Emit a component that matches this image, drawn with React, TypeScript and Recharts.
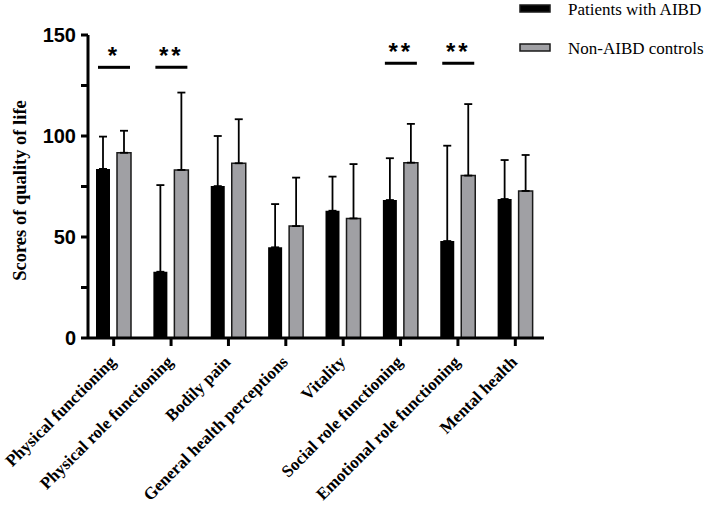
import { BarChart, Bar, XAxis, YAxis, ErrorBar, Legend } from "recharts";

const categories = [
  "Physical functioning",
  "Physical role functioning",
  "Bodily pain",
  "General health perceptions",
  "Vitality",
  "Social role functioning",
  "Emotional role functioning",
  "Mental health",
];

const seriesNames = ["Patients with AIBD", "Non-AIBD controls"];
const seriesColors = ["#000", "#a0a0a4"];

const aibdMeans = [83.7, 32.8, 75.2, 44.9, 63.0, 68.3, 48.0, 68.8];
const aibdSD = [16.0, 42.9, 24.8, 21.4, 16.9, 20.7, 47.2, 19.3];
const controlMeans = [91.7, 83.2, 86.5, 55.4, 59.2, 86.8, 80.4, 72.8];
const controlSD = [10.9, 38.3, 21.8, 24.0, 26.9, 19.2, 35.4, 17.8];

// significance brackets: level in score units, label above
const sigLevels = [134, 134, null, null, null, 136, 136, null];
const sigMarks = ["*", "**", "", "", "", "**", "**", ""];

const yTicks = [0, 25, 50, 75, 100, 125, 150];

const data = categories.map((name, i) => ({
  name,
  aibd: aibdMeans[i],
  aibdErr: [0, aibdSD[i]],
  control: controlMeans[i],
  controlErr: [0, controlSD[i]],
  sig: sigLevels[i],
  sigMark: sigMarks[i],
}));

const SERIF = "'Liberation Serif', 'Times New Roman', serif";
const SANS = "'Liberation Sans', Arial, sans-serif";

const XTick = ({ x, y, payload }: any) => (
  <g transform={`translate(${x + 3},${y + 15})`}>
    <text
      textAnchor="end"
      transform="rotate(-45)"
      fontFamily={SERIF}
      fontWeight="bold"
      fontSize={17}
      fill="#000"
    >
      {payload.value}
    </text>
  </g>
);

const SigShape = (props: any) => {
  const { x, y, width, payload } = props;
  if (payload == null || payload.sig == null) return <g />;
  return (
    <g>
      <line x1={x} x2={x + width} y1={y} y2={y} stroke="#000" strokeWidth={3} />
      <text
        x={x + width / 2}
        y={y - 3}
        textAnchor="middle"
        fontFamily={SANS}
        fontWeight="bold"
        fontSize={24}
        letterSpacing={3}
        fill="#000"
      >
        {payload.sigMark}
      </text>
    </g>
  );
};

const renderLegend = () => (
  <svg width={193} height={62}>
    {seriesNames.map((name, i) => (
      <g key={name} transform={`translate(5,${5 + i * 39})`}>
        <rect
          x={0}
          y={0}
          width={30}
          height={7}
          fill={seriesColors[i]}
          stroke="#1a1a1a"
          strokeWidth={1.5}
        />
        <text x={48} y={10} fontFamily={SERIF} fontSize={17} fill="#000">
          {name}
        </text>
      </g>
    ))}
  </svg>
);

const YLabel = ({ viewBox }: any) => {
  const cx = 20;
  const cy = viewBox.y + viewBox.height / 2 + 4;
  return (
    <text
      x={cx}
      y={cy}
      transform={`rotate(-90,${cx},${cy})`}
      textAnchor="middle"
      dominantBaseline="central"
      fontFamily={SERIF}
      fontWeight="bold"
      fontSize={18.5}
      fill="#000"
    >
      Scores of quality of life
    </text>
  );
};

export default function App() {
  return (
    <div style={{ position: "absolute", left: 0, top: 0, background: "#fff" }}>
      <BarChart
        width={708}
        height={510}
        data={data}
        margin={{ top: 35, right: 164, bottom: 12, left: 28 }}
        barSize={14}
        barGap={7}
      >
        <XAxis
          dataKey="name"
          height={160}
          interval={0}
          padding={{ left: -3, right: 0 }}
          axisLine={{ stroke: "#000", strokeWidth: 3 }}
          tickLine={{ stroke: "#000", strokeWidth: 3 }}
          tickSize={8}
          tick={<XTick />}
        />
        <XAxis xAxisId="sig" dataKey="name" hide padding={{ left: -3, right: 0 }} />
        <YAxis
          width={60}
          domain={[0, 150]}
          ticks={yTicks}
          interval={0}
          tickSize={7}
          tickMargin={5}
          axisLine={{ stroke: "#000", strokeWidth: 3 }}
          tickLine={{ stroke: "#000", strokeWidth: 3 }}
          tickFormatter={(v: number) => (v % 50 === 0 ? String(v) : "")}
          tick={{ fill: "#000", fontFamily: SANS, fontWeight: "bold", fontSize: 20 }}
          label={<YLabel />}
        />
        <Legend
          layout="vertical"
          align="center"
          verticalAlign="middle"
          content={renderLegend}
          wrapperStyle={{ top: 0, left: 515, width: 193, height: 62 }}
        />
        <Bar dataKey="aibd" name={seriesNames[0]} fill={seriesColors[0]} isAnimationActive={false}>
          <ErrorBar dataKey="aibdErr" width={4} stroke="#000" strokeWidth={1.8} direction="y" />
        </Bar>
        <Bar
          dataKey="control"
          name={seriesNames[1]}
          fill={seriesColors[1]}
          stroke="#1a1a1a"
          strokeWidth={1.5}
          isAnimationActive={false}
        >
          <ErrorBar dataKey="controlErr" width={4} stroke="#000" strokeWidth={1.8} direction="y" />
        </Bar>
        <Bar
          xAxisId="sig"
          dataKey="sig"
          barSize={32}
          legendType="none"
          shape={<SigShape />}
          isAnimationActive={false}
        />
      </BarChart>
    </div>
  );
}
